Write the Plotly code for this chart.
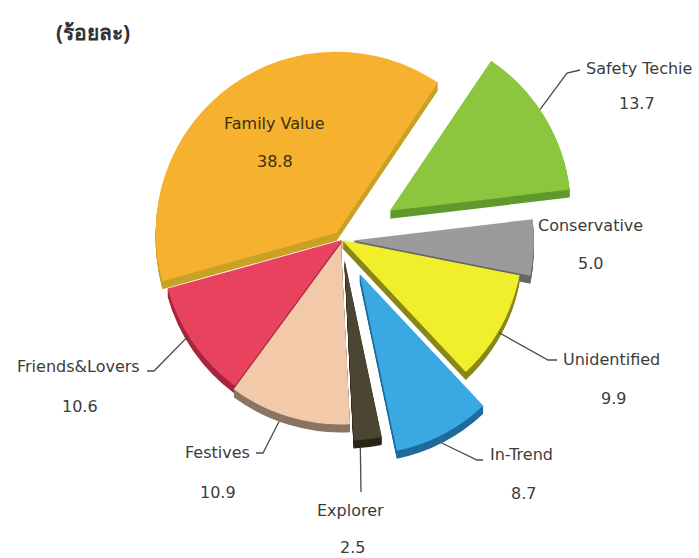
import math
import plotly.graph_objects as go

# Market segments, clockwise from the upper right
segments = ["Safety Techie", "Conservative", "Unidentified", "In-Trend",
            "Explorer", "Festives", "Friends&Lovers", "Family Value"]
shares = [13.7, 5.0, 9.9, 8.7, 2.5, 10.9, 10.6, 38.8]
unit_label = "(ร้อยละ)"

# Styling
top_colors = ["#8cc63f", "#9b9b9b", "#f1ee2b", "#3aa9e3",
              "#4b4634", "#f3caa9", "#e9425f", "#f6b22f"]
side_colors = ["#5f9a2c", "#676767", "#8a8818", "#1f6b9c",
               "#2a2618", "#8c7461", "#a8263f", "#c9a226"]
pulls = [0.31, 0.06, 0.0, 0.21, 0.11, 0.02, 0.0, 0.05]

W, H = 699, 558
CX, CY, R = 342, 240, 181      # pie centre and radius in pixels
ROT = 34                        # start angle of the first slice (deg, clockwise from 12 o'clock)
DEPTH = 8                       # thickness of the extruded side in pixels

FONT = "DejaVu Sans"
TEXT = "#3c3c3c"


def px(x):
    return x / W


def py(y):
    return 1 - y / H


# Pie domain so that the radius comes out at R with the largest pull
box = 2 * R * (1 + max(pulls))
dom_x = [px(CX - box / 2), px(CX + box / 2)]


def dom_y(shift):
    return [py(CY + box / 2 + shift), py(CY - box / 2 + shift)]


fig = go.Figure()

# Extruded sides: stacked copies shifted downward
for k in range(DEPTH, 0, -1):
    fig.add_trace(go.Pie(
        labels=segments, values=shares, sort=False, direction="clockwise",
        rotation=ROT, pull=pulls, textinfo="none", hoverinfo="skip",
        marker=dict(colors=side_colors, line=dict(width=0)),
        domain=dict(x=dom_x, y=dom_y(k)), showlegend=False,
    ))

# Top faces
fig.add_trace(go.Pie(
    labels=segments, values=shares, sort=False, direction="clockwise",
    rotation=ROT, pull=pulls, textinfo="none",
    marker=dict(colors=top_colors, line=dict(width=0)),
    domain=dict(x=dom_x, y=dom_y(0)), showlegend=False,
))

# Slice geometry for leader lines
total = sum(shares)
mids = []
acc = 0.0
for v in shares:
    a0 = ROT + 360 * acc / total
    a1 = ROT + 360 * (acc + v) / total
    mids.append((a0 + a1) / 2)
    acc += v


def rim_point(i, ang, drop):
    m = math.radians(mids[i])
    a = math.radians(ang)
    x = CX + pulls[i] * R * math.sin(m) + R * math.sin(a)
    y = CY - pulls[i] * R * math.cos(m) - R * math.cos(a) + drop
    return x, y


# (slice index, rim angle, side drop, further leader vertices)
leaders = [
    (0, 56, 0, [(567, 73), (580, 70)]),
    (2, 120, 2, [(548, 360), (557, 360)]),
    (3, 153, DEPTH, [(477, 460), (483, 460)]),
    (4, 175, DEPTH, [(361, 492)]),
    (5, 200, DEPTH, [(263, 453), (256, 453)]),
    (6, 238, 0, [(154, 371), (147, 371)]),
]

shapes = []
for i, ang, drop, rest in leaders:
    pts = [rim_point(i, ang, drop)] + rest
    path = "M " + " L ".join(f"{px(x):.5f},{py(y):.5f}" for x, y in pts)
    shapes.append(dict(type="path", path=path, xref="paper", yref="paper",
                       line=dict(color="#4a4a4a", width=1.3)))

# Label and value positions (pixel centres)
label_pos = [(639, 68), (590, 226), (611, 359), (521, 454),
             (350, 510), (217, 452), (78, 366), (274, 123)]
value_pos = [(637, 103), (590, 263), (613, 398), (523, 493),
             (353, 547), (218, 492), (80, 406), (275, 162)]

annotations = []
for i, name in enumerate(segments):
    color = "#3a3010" if i == 7 else TEXT
    (lx, ly), (vx, vy) = label_pos[i], value_pos[i]
    annotations.append(dict(text=name, x=px(lx), y=py(ly), xref="paper", yref="paper",
                            showarrow=False, xanchor="center", yanchor="middle",
                            font=dict(family=FONT, size=16, color=color)))
    annotations.append(dict(text=f"{shares[i]:.1f}", x=px(vx), y=py(vy),
                            xref="paper", yref="paper", showarrow=False,
                            xanchor="center", yanchor="middle",
                            font=dict(family=FONT, size=16, color=color)))

annotations.append(dict(text=f"<b>{unit_label}</b>", x=px(93), y=py(32),
                        xref="paper", yref="paper", showarrow=False,
                        xanchor="center", yanchor="middle",
                        font=dict(family="Noto Sans, DejaVu Sans", size=21, color="#333333")))

fig.update_layout(
    width=W, height=H, margin=dict(l=0, r=0, t=0, b=0),
    paper_bgcolor="white", plot_bgcolor="white",
    shapes=shapes, annotations=annotations,
)

fig.write_html("out.html")
